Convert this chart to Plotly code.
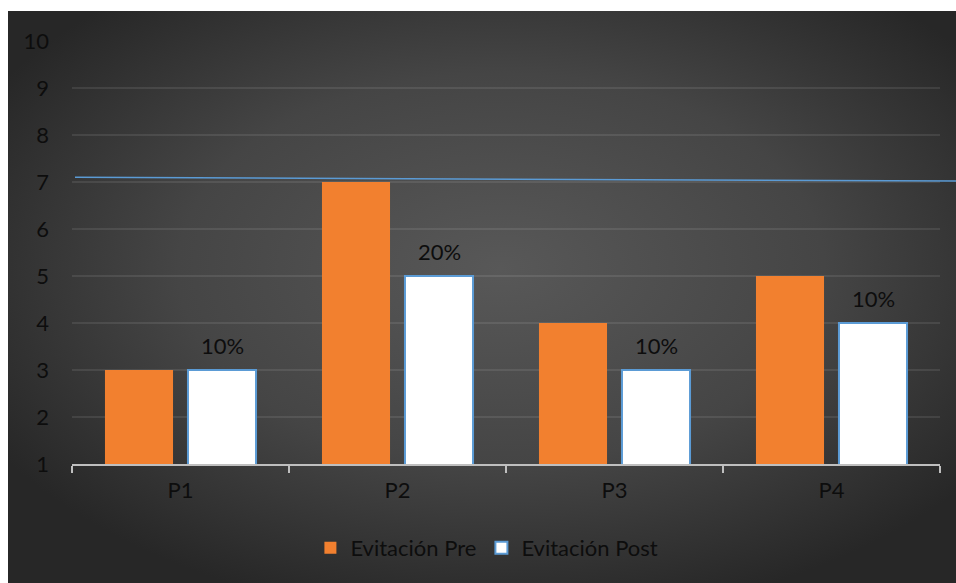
import base64
import plotly.graph_objects as go

# Data
categories = ["P1", "P2", "P3", "P4"]
pre_values = [3, 7, 4, 5]
post_values = [3, 5, 3, 4]
post_labels = ["10%", "20%", "10%", "10%"]
ref_line = [7.1, 7.02]  # reference line level at left / right end

FONT = "Lato, Carlito, 'Open Sans', sans-serif"
TEXT = "#0d0d0d"
BLUE = "#5b9bd5"
ORANGE = "#f2802f"

W, H = 956, 583
ML, MR, MT, MB = 72, 16, 41, 119
PW, PH = W - ML - MR, H - MT - MB

# dark radial backdrop (as SVG)
svg = (
    "<svg xmlns='http://www.w3.org/2000/svg' width='948' height='572' viewBox='0 0 948 572' "
    "preserveAspectRatio='none'><defs><radialGradient id='g' cx='52%' cy='45%' r='62%'>"
    "<stop offset='0' stop-color='#585858'/><stop offset='0.55' stop-color='#454545'/>"
    "<stop offset='1' stop-color='#272727'/></radialGradient></defs>"
    "<rect width='948' height='572' fill='url(#g)'/></svg>"
)
bg_src = "data:image/svg+xml;base64," + base64.b64encode(svg.encode()).decode()

def px_x(p):
    return (p - ML) / PW

def px_y(p):
    return (H - MB - p) / PH

fig = go.Figure()
fig.add_trace(go.Bar(
    name="Evitación Pre", x=categories, y=pre_values,
    marker=dict(color=ORANGE, line=dict(width=0)),
))
fig.add_trace(go.Bar(
    name="Evitación Post", x=categories, y=post_values,
    marker=dict(color="white", line=dict(color=BLUE, width=2)),
))

# percentage labels above the post bars
for cat, v, lab in zip(categories, post_values, post_labels):
    fig.add_annotation(x=cat, y=v, text=lab, showarrow=False, xshift=41.5, yshift=25,
                       font=dict(family=FONT, size=22, color=TEXT))

# reference line
fig.add_shape(type="line", xref="paper", yref="y", x0=px_x(75), x1=px_x(956),
              y0=ref_line[0], y1=ref_line[1], line=dict(color=BLUE, width=1.5), layer="above")

fig.add_layout_image(dict(source=bg_src, xref="paper", yref="paper",
                          x=px_x(8), y=px_y(11), sizex=px_x(956) - px_x(8),
                          sizey=px_y(11) - px_y(583), xanchor="left", yanchor="top",
                          sizing="stretch", layer="below"))

fig.update_layout(
    width=W, height=H,
    margin=dict(l=ML, r=MR, t=MT, b=MB, pad=0),
    paper_bgcolor="white", plot_bgcolor="rgba(0,0,0,0)",
    barmode="group", bargap=0.235, bargroupgap=0.18,
    font=dict(family=FONT, size=22, color=TEXT),
    showlegend=True,
    legend=dict(orientation="h", x=0.478, xanchor="center", y=px_y(548), yanchor="middle",
                font=dict(family=FONT, size=22, color=TEXT), bgcolor="rgba(0,0,0,0)",
                itemwidth=30, traceorder="normal"),
)
fig.update_xaxes(
    showgrid=False, showline=True, linecolor="#bfbfbf", linewidth=2,
    ticks="outside", tickson="boundaries", ticklen=7, tickcolor="#bfbfbf", tickwidth=2,
    tickfont=dict(family=FONT, size=22, color=TEXT), ticklabelstandoff=6,
)
fig.update_yaxes(
    range=[1, 10], dtick=1, tick0=1, showgrid=True, gridcolor="rgba(255,255,255,0.09)",
    gridwidth=1.5, zeroline=False, showline=False, ticks="",
    tickfont=dict(family=FONT, size=22, color=TEXT), ticklabelstandoff=22,
)

fig.write_html("out.html")
